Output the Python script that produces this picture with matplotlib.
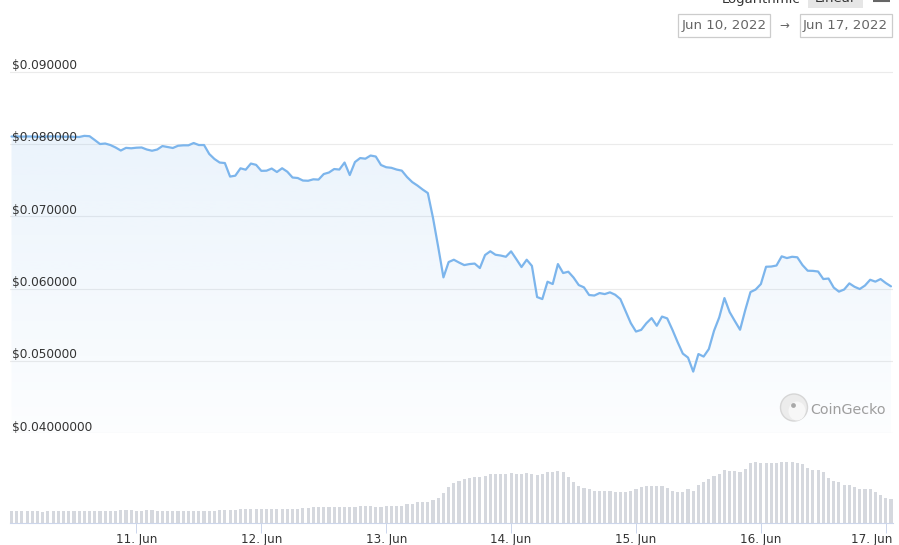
import numpy as np
import matplotlib
matplotlib.use("Agg")
import matplotlib.pyplot as plt
import matplotlib.dates as mdates
import matplotlib.transforms as mtransforms
from matplotlib.patches import Rectangle, Circle, PathPatch, Ellipse
from datetime import datetime, timedelta

# ---------------- data ----------------
start_time = datetime(2022, 6, 10, 0, 0)

price = [
    0.08104, 0.08106, 0.08102, 0.08105, 0.08104, 0.08100, 0.08102, 0.08105, 0.08106, 0.08104,
    0.08101, 0.08102, 0.08100, 0.08097, 0.08113, 0.08108, 0.08055, 0.08000, 0.08007, 0.07986,
    0.07952, 0.07910, 0.07947, 0.07941, 0.07949, 0.07952, 0.07924, 0.07907, 0.07924, 0.07972,
    0.07959, 0.07945, 0.07976, 0.07982, 0.07982, 0.08014, 0.07986, 0.07986, 0.07862, 0.07793,
    0.07744, 0.07737, 0.07550, 0.07562, 0.07664, 0.07645, 0.07730, 0.07712, 0.07629, 0.07631,
    0.07661, 0.07613, 0.07665, 0.07617, 0.07537, 0.07530, 0.07495, 0.07492, 0.07512, 0.07508,
    0.07585, 0.07606, 0.07654, 0.07647, 0.07744, 0.07571, 0.07751, 0.07806, 0.07797, 0.07841,
    0.07827, 0.07710, 0.07679, 0.07671, 0.07647, 0.07632, 0.07544, 0.07474, 0.07426, 0.07371,
    0.07322, 0.06977, 0.06575, 0.06156, 0.06368, 0.06400, 0.06361, 0.06326, 0.06340, 0.06347,
    0.06285, 0.06465, 0.06517, 0.06469, 0.06458, 0.06441, 0.06516, 0.06409, 0.06299, 0.06400,
    0.06315, 0.05884, 0.05856, 0.06096, 0.06064, 0.06340, 0.06216, 0.06234, 0.06154, 0.06050,
    0.06018, 0.05912, 0.05905, 0.05939, 0.05925, 0.05949, 0.05916, 0.05856, 0.05690, 0.05524,
    0.05407, 0.05430, 0.05522, 0.05593, 0.05487, 0.05614, 0.05589, 0.05432, 0.05261, 0.05102,
    0.05047, 0.04853, 0.05096, 0.05061, 0.05165, 0.05418, 0.05603, 0.05870, 0.05676, 0.05552,
    0.05432, 0.05704, 0.05953, 0.05988, 0.06064, 0.06303, 0.06306, 0.06320, 0.06447, 0.06423,
    0.06441, 0.06434, 0.06326, 0.06248, 0.06246, 0.06237, 0.06133, 0.06140, 0.06015, 0.05959,
    0.05988, 0.06073, 0.06026, 0.05995, 0.06043, 0.06123, 0.06097, 0.06133, 0.06078, 0.06032,
]

volume = [
    12.7, 12.7, 12.7, 12.7, 12.7, 12.7, 11.3, 12.7, 12.7, 12.7,
    12.7, 12.7, 12.7, 12.7, 12.7, 12.7, 12.7, 12.7, 12.7, 12.7,
    12.7, 13.7, 13.7, 13.7, 12.7, 12.7, 13.7, 13.7, 12.7, 12.7,
    12.7, 12.7, 12.7, 12.7, 12.7, 12.7, 12.7, 12.7, 12.7, 12.7,
    13.7, 13.7, 13.7, 13.7, 14.3, 14.3, 14.3, 14.3, 14.3, 14.3,
    14.3, 14.3, 14.3, 14.3, 14.3, 14.3, 15.3, 15.3, 16.7, 16.7,
    16.7, 16.7, 16.7, 16.7, 16.7, 16.7, 16.7, 17.7, 17.7, 17.7,
    16.7, 16.7, 17.7, 17.7, 17.7, 17.7, 19.3, 19.3, 21.0, 21.0,
    21.0, 23.3, 25.3, 30.0, 36.0, 40.7, 42.7, 44.7, 45.3, 46.0,
    46.0, 47.3, 49.3, 49.3, 49.3, 49.3, 50.0, 49.3, 49.3, 50.0,
    49.3, 48.3, 49.3, 51.0, 51.0, 52.0, 51.0, 46.7, 41.3, 37.3,
    35.0, 34.0, 32.7, 32.7, 32.7, 32.7, 31.7, 31.7, 31.7, 32.7,
    34.0, 36.0, 37.3, 37.3, 37.3, 37.3, 35.0, 32.7, 31.7, 31.7,
    34.0, 32.7, 38.3, 41.3, 44.0, 47.3, 49.3, 53.3, 52.3, 52.3,
    51.0, 54.0, 60.0, 61.0, 60.0, 60.0, 60.0, 60.0, 61.0, 61.0,
    61.0, 60.0, 59.0, 55.7, 53.3, 53.3, 51.0, 45.7, 42.7, 41.7,
    38.3, 38.3, 36.0, 34.0, 34.0, 34.0, 31.7, 28.3, 25.7, 24.3,
]

price_ticks = [0.04, 0.05, 0.06, 0.07, 0.08, 0.09]
price_tick_labels = ["$0.04000000", "$0.050000", "$0.060000", "$0.070000", "$0.080000", "$0.090000"]
day_ticks = [datetime(2022, 6, d) for d in range(11, 18)]
day_tick_labels = ["11. Jun", "12. Jun", "13. Jun", "14. Jun", "15. Jun", "16. Jun", "17. Jun"]
range_from = "Jun 10, 2022"
range_to = "Jun 17, 2022"

times = [start_time + timedelta(hours=i) for i in range(len(price))]
tnum = mdates.date2num(times)

# ---------------- figure ----------------
W, H = 899, 545
fig = plt.figure(figsize=(W / 100, H / 100), dpi=100)
fig.patch.set_facecolor("white")

LINE = "#7cb5ec"
xmin = mdates.date2num(start_time - timedelta(hours=0.29))
xmax = mdates.date2num(start_time + timedelta(hours=169.39))
ytop = 0.09 + 11.7 / 7230

ax = fig.add_axes([10 / W, 1 - 433.3 / H, 883 / W, (433.3 - 60) / H])
ax.set_facecolor("none")
for s in ax.spines.values():
    s.set_visible(False)
ax.set_yticks(price_ticks)
ax.yaxis.grid(True, color="#ebebeb", lw=0.8, zorder=0)
ax.set_axisbelow(True)
ax.tick_params(axis="both", length=0, labelleft=False, labelbottom=False)
ax.set_xticks([])

# gradient area fill
poly = ax.fill_between(tnum, price, 0.04, facecolor="none", edgecolor="none")
clip = PathPatch(poly.get_paths()[0], transform=ax.transData, facecolor="none", edgecolor="none")
ax.add_patch(clip)
n = 256
img = np.zeros((n, 1, 4))
rgb = matplotlib.colors.to_rgb(LINE)
img[:, 0, 0], img[:, 0, 1], img[:, 0, 2] = rgb
img[:, 0, 3] = np.linspace(0.19, 0.02, n)
im = ax.imshow(img, extent=[xmin, xmax, 0.04, ytop], aspect="auto", origin="upper", zorder=1,
               interpolation="bilinear")
im.set_clip_path(clip)

ax.plot(tnum, price, color=LINE, lw=1.6, zorder=3, solid_joinstyle="round", solid_capstyle="round")
ax.set_xlim(xmin, xmax)
ax.set_ylim(0.04, ytop)

# y labels inside the plot, above gridlines
lab_tr = mtransforms.blended_transform_factory(ax.transAxes, ax.transData)
for v, lab in zip(price_ticks, price_tick_labels):
    ax.annotate(lab, xy=(0, v), xycoords=lab_tr, xytext=(1.2, 2.0), textcoords="offset points",
                ha="left", va="baseline", fontsize=8.7, color="#333333", zorder=5)

# volume axes
axv = fig.add_axes([10 / W, 1 - 523.3 / H, 883 / W, 80.3 / H])
axv.set_facecolor("none")
axv.bar(tnum, volume, width=0.6 / 24, color="#d5d8de", zorder=2)
axv.set_xlim(xmin, xmax)
axv.set_ylim(0, 80.3)
for k in ["top", "left", "right"]:
    axv.spines[k].set_visible(False)
axv.spines["bottom"].set_color("#ccd6eb")
axv.spines["bottom"].set_linewidth(0.8)
axv.set_yticks([])
axv.set_xticks(mdates.date2num(day_ticks))
axv.set_xticklabels(day_tick_labels)
axv.tick_params(axis="x", length=7.2, width=0.72, color="#ccd6eb", labelsize=8.6,
                labelcolor="#333333", pad=0.0)
last = axv.get_xticklabels()[-1]
last.set_transform(last.get_transform() + mtransforms.ScaledTranslation(-14 / 100, 0, fig.dpi_scale_trans))

# overlay for UI elements (pixel coordinates)
ov = fig.add_axes([0, 0, 1, 1])
ov.set_xlim(0, W)
ov.set_ylim(H, 0)
ov.axis("off")
ov.patch.set_visible(False)

# top-right buttons (partially cut off)
ov.add_patch(Rectangle((808, -20), 55, 28.3, facecolor="#e6e6e6", edgecolor="none"))
ov.text(760.8, 2.5, "Logarithmic", ha="center", va="baseline", fontsize=9.5, color="#333333")
ov.text(835.5, 2.5, "Linear", ha="center", va="baseline", fontsize=9.5, color="#333333")
ov.plot([873, 890], [0.8, 0.8], color="#666666", lw=1.5, solid_capstyle="butt")

# date range boxes
ov.add_patch(Rectangle((677.5, 14), 92.5, 22.5, facecolor="white", edgecolor="#cccccc", lw=0.9))
ov.add_patch(Rectangle((799.5, 14), 92, 22.5, facecolor="white", edgecolor="#cccccc", lw=0.9))
ov.text(723.7, 25.6, range_from, ha="center", va="center", fontsize=9.6, color="#666666")
ov.text(845.5, 25.6, range_to, ha="center", va="center", fontsize=9.6, color="#666666")
ov.text(784, 25.2, "\u2192", ha="center", va="center", fontsize=8.5, color="#666666")

# CoinGecko watermark
ov.add_patch(Circle((794, 407.5), 13.5, facecolor="#ececec", edgecolor="#d6d6d6", lw=1.0))
ov.add_patch(Ellipse((797, 411), 17, 19, facecolor="#f7f7f7", edgecolor="none"))
ov.add_patch(Circle((793.5, 405.5), 2.4, facecolor="#a8a8a8", edgecolor="none"))
ov.text(810.7, 410.5, "CoinGecko", ha="left", va="center", fontsize=10.3, color="#9e9e9e")

fig.savefig("out.png", dpi=100, facecolor="white")
